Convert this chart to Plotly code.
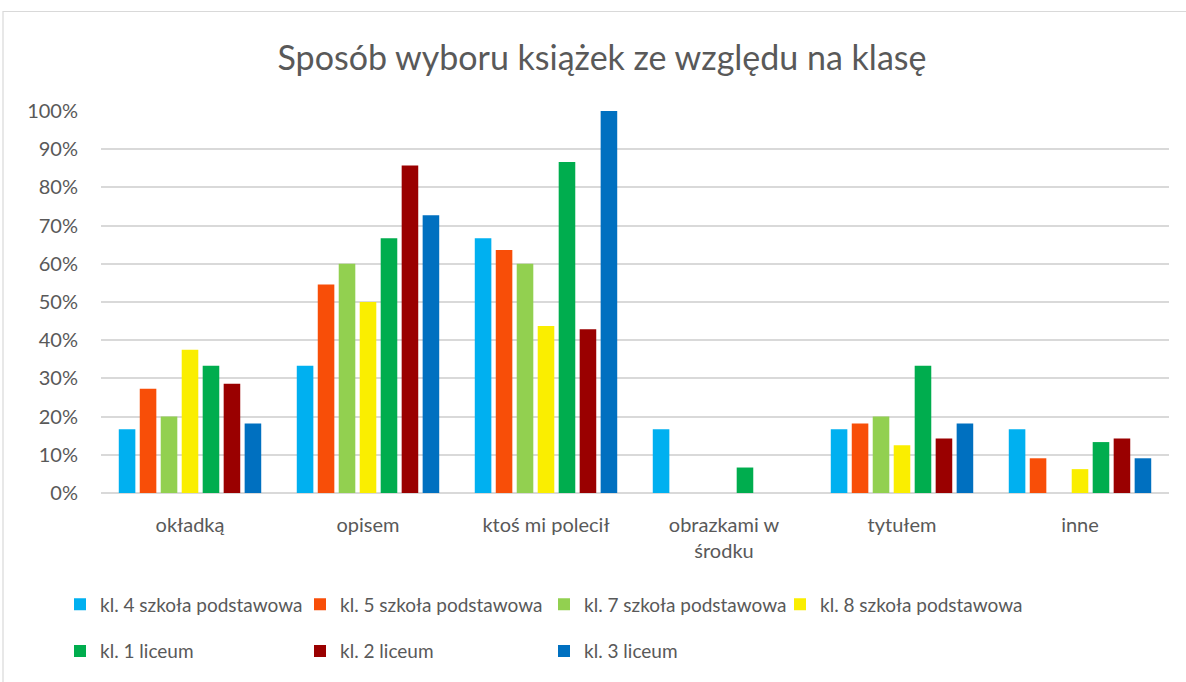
import plotly.graph_objects as go

categories = ["okładką", "opisem", "ktoś mi polecił", "obrazkami w<br>środku", "tytułem", "inne"]
series_names = [
    "kl. 4 szkoła podstawowa",
    "kl. 5 szkoła podstawowa",
    "kl. 7 szkoła podstawowa",
    "kl. 8 szkoła podstawowa",
    "kl. 1 liceum",
    "kl. 2 liceum",
    "kl. 3 liceum",
]
kl4_sp = [0.1667, 0.3333, 0.6667, 0.1667, 0.1667, 0.1667]
kl5_sp = [0.2727, 0.5455, 0.6364, 0.0, 0.1818, 0.0909]
kl7_sp = [0.20, 0.60, 0.60, 0.0, 0.20, 0.0]
kl8_sp = [0.375, 0.50, 0.4375, 0.0, 0.125, 0.0625]
kl1_lo = [0.3333, 0.6667, 0.8667, 0.0667, 0.3333, 0.1333]
kl2_lo = [0.2857, 0.8571, 0.4286, 0.0, 0.1429, 0.1429]
kl3_lo = [0.1818, 0.7273, 1.0, 0.0, 0.1818, 0.0909]
series_values = [kl4_sp, kl5_sp, kl7_sp, kl8_sp, kl1_lo, kl2_lo, kl3_lo]
colors = ["#00B0F0", "#F84E08", "#92D050", "#FAEE00", "#00AD4E", "#9A0000", "#0070C0"]
y_ticks = [i / 10 for i in range(11)]

W, H = 1186, 682
L, R, T, B = 101, 17, 111, 187

FONT = "Lato"
GREY = "#595959"
pw = W - L - R
ph = H - T - B


def px_to_paper_x(px):
    return (px - L) / pw


def px_to_paper_y(py):
    return (H - B - py) / ph


# legend entry positions (text start x, row centre y) in pixels
legend_pos = [(100, 607), (340, 607), (584, 607), (820, 607),
              (100, 654), (340, 654), (584, 654)]

fig = go.Figure()
legend_layout = {}
for i, (name, vals, col) in enumerate(zip(series_names, series_values, colors)):
    key = "legend" if i == 0 else f"legend{i + 1}"
    fig.add_trace(go.Bar(
        x=categories, y=vals, name=name, showlegend=True,
        marker=dict(color=col, line=dict(width=0)),
        legend=key,
    ))
    tx, ty = legend_pos[i]
    legend_layout[key] = dict(
        orientation="h", xanchor="left", yanchor="middle",
        x=px_to_paper_x(tx - 40), y=px_to_paper_y(ty),
        itemwidth=30, font=dict(family=FONT, size=19, color=GREY),
        bgcolor="rgba(0,0,0,0)", visible=True,
    )

fig.update_layout(
    width=W, height=H,
    margin=dict(l=L, r=R, t=T, b=B),
    paper_bgcolor="white", plot_bgcolor="white",
    showlegend=True,
    barmode="group", bargap=0.175, bargroupgap=0.21,
    font=dict(family=FONT, color=GREY, size=20),
    title=dict(text="Sposób wyboru książek ze względu na klasę",
               x=602 / W, xref="container", xanchor="center",
               y=1 - 58 / H, yref="container", yanchor="middle",
               font=dict(family=FONT, size=34, color=GREY)),
    xaxis=dict(showgrid=False, showline=False, ticks="",
               tickfont=dict(family=FONT, size=20, color=GREY),
               ticklabelstandoff=18),
    yaxis=dict(range=[0, 1.0], tickvals=y_ticks, tickformat=".0%",
               showgrid=True, gridcolor="#D9D9D9", gridwidth=1.5,
               zeroline=True, zerolinecolor="#D9D9D9", zerolinewidth=1.5,
               showline=False, ticks="", tickfont=dict(family=FONT, size=20, color=GREY),
               ticklabelstandoff=22),
    shapes=[dict(type="rect", xref="paper", yref="paper",
                 x0=px_to_paper_x(3), x1=px_to_paper_x(1195),
                 y0=px_to_paper_y(700), y1=px_to_paper_y(11),
                 line=dict(color="#D9D9D9", width=1.2), fillcolor="rgba(0,0,0,0)", layer="below")],
    **legend_layout,
)

fig.write_html("out.html", config={"displayModeBar": False},
               post_script="document.body.style.margin='0';document.body.style.padding='0';")
